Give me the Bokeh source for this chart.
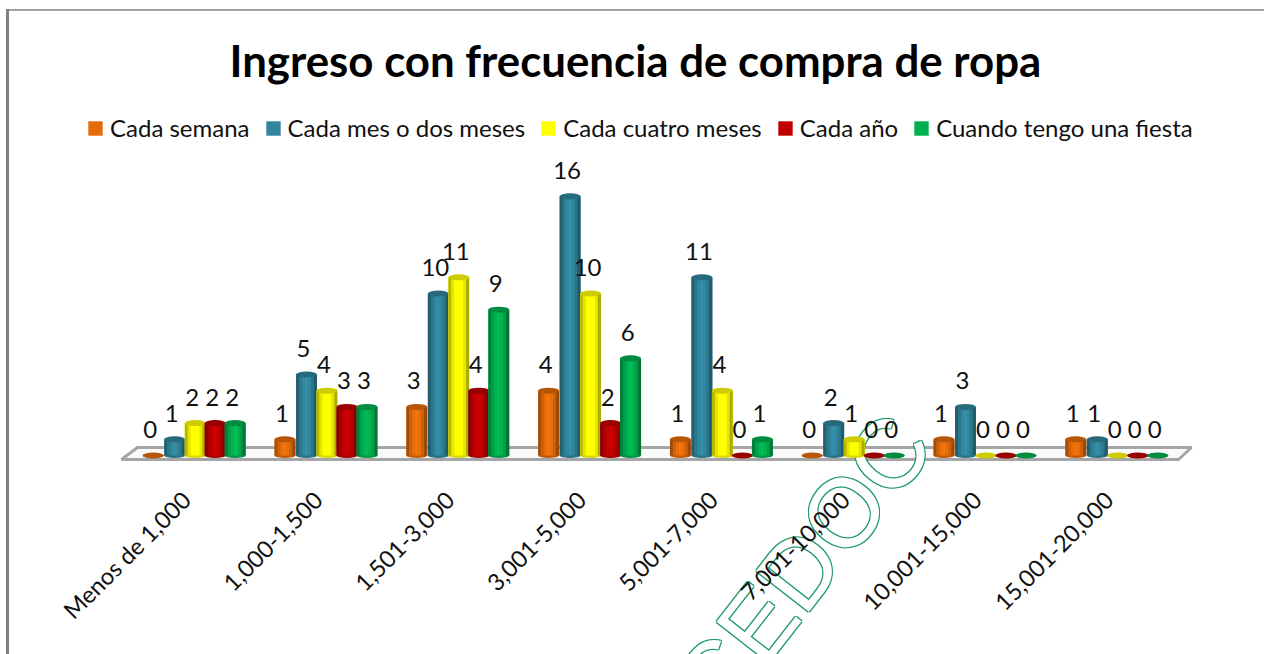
from bokeh.plotting import figure
from bokeh.embed import file_html
from bokeh.resources import INLINE
from bokeh.models import Legend, LegendItem, PolyAnnotation, Label, Range1d, FactorRange, ColumnDataSource
from bokeh.transform import dodge
from bokeh.core.properties import value
import math

categories = ["Menos de 1,000", "1,000-1,500", "1,501-3,000", "3,001-5,000",
              "5,001-7,000", "7,001-10,000", "10,001-15,000", "15,001-20,000"]
cada_semana = [0, 1, 3, 4, 1, 0, 1, 1]
cada_mes = [1, 5, 10, 16, 11, 2, 3, 1]
cada_cuatro = [2, 4, 11, 10, 4, 1, 0, 0]
cada_anio = [2, 3, 4, 2, 0, 0, 0, 0]
cuando_fiesta = [2, 3, 9, 6, 1, 0, 0, 0]
series_names = ["Cada semana", "Cada mes o dos meses", "Cada cuatro meses", "Cada año", "Cuando tengo una fiesta"]
title_text = "Ingreso con frecuencia de compra de ropa"
watermark = "CEDOC"

series = [cada_semana, cada_mes, cada_cuatro, cada_anio, cuando_fiesta]
colors = [(228, 108, 10), (49, 133, 156), (255, 255, 0), (192, 0, 0), (0, 176, 80)]
LABEL_SHIFT = 9  # category labels sit this many px left of their bar groups
offsets_px = [o + LABEL_SHIFT for o in [-42, -20.5, 0, 20, 40]]

GROUP = 131.8
F_L, F_R, F_T, F_B = 41, 1253, 105, 654
PX_UNIT = 16.2
BASE = 455

def shade(c, f):
    return "#%02x%02x%02x" % tuple(max(0, min(255, int(v * f))) for v in c)

p = figure(width=1264, height=654, output_backend="svg", toolbar_location=None,
           x_range=FactorRange(factors=categories, range_padding=(F_R - F_L - 8 * GROUP) / 2 / GROUP,
                               range_padding_units="absolute", factor_padding=0, group_padding=0),
           y_range=Range1d((BASE - F_B) / PX_UNIT, (BASE - F_T) / PX_UNIT),
           frame_width=F_R - F_L, frame_height=F_B - F_T,
           min_border_left=F_L, min_border_right=1264 - F_R,
           min_border_top=F_T, min_border_bottom=0,
           background_fill_color=None, border_fill_color=None, outline_line_color=None,
           styles={"background": "linear-gradient(#808080,#808080) 6px 9px/3px 645px no-repeat,"
                                 "linear-gradient(#A0A0A0,#A0A0A0) 6px 9px/1258px 2px no-repeat,white"})
p.grid.visible = False
p.yaxis.visible = False

ax = p.xaxis[0]
ax.fixed_location = (BASE - 462) / PX_UNIT
ax.axis_line_color = None
ax.major_tick_line_color = None
ax.minor_tick_line_color = None
ax.major_label_orientation = math.pi / 4
ax.major_label_text_font = "Lato"
ax.major_label_text_font_size = "23.5px"
ax.major_label_text_color = "#111111"
ax.major_label_standoff = 27

# title
p.title.text = title_text
p.title.align = "left"
p.title.offset = 229 - F_L
p.title.text_font = "Lato"
p.title.text_font_style = "bold"
p.title.text_font_size = "43.8px"
p.title.text_color = "black"
p.title.standoff = 40

def poly(xs, ys, **kw):
    p.add_layout(PolyAnnotation(xs=xs, ys=ys, xs_units="canvas", ys_units="canvas", **kw))

# floor
poly([121, 137, 1191, 1178], [459, 447, 447, 459], fill_color="#FAFAFA", fill_alpha=1,
     line_color="#A6A6A6", line_alpha=1, line_width=3, level="underlay")

# watermark: real text, outlined by offset copies
wm = dict(x=802, y=565, x_units="canvas", y_units="canvas", text=watermark, angle=52, angle_units="deg",
          text_font="Liberation Sans", text_font_size="97px", text_align="center", text_baseline="middle",
          level="underlay")
for dx, dy in [(-1, -1), (1, -1), (-1, 1), (1, 1)]:
    p.add_layout(Label(x_offset=dx, y_offset=dy, text_color="#1F9A6A", **wm))
p.add_layout(Label(text_color="white", **wm))

# cylinders
strips = [(-0.42, 0.72), (-0.28, 0.9), (-0.14, 1.02), (0.0, 1.08), (0.14, 1.02), (0.28, 0.9), (0.42, 0.68)]
W = 21
legend_items = []
for vals, name, col, off in zip(series, series_names, colors, offsets_px):
    src = ColumnDataSource(dict(cat=categories, val=vals, lab=[str(v) for v in vals], zero=[0] * len(vals)))
    px = off / GROUP
    main = p.vbar(x=dodge("cat", px, range=p.x_range), top="val", bottom=0, width=W / GROUP,
                  source=src, fill_color=shade(col, 1), line_color=None)
    p.ellipse(x=dodge("cat", px, range=p.x_range), y="zero", width=W, height=5, width_units="screen", height_units="screen",
              source=src, fill_color=shade(col, 0.85), line_color=None)
    for so, f in strips:
        p.vbar(x=dodge("cat", px + so * W / GROUP, range=p.x_range), top="val", bottom=0, width=(W * 0.15) / GROUP,
               source=src, fill_color=shade(col, f), line_color=None)
    p.ellipse(x=dodge("cat", px, range=p.x_range), y="val", width=W, height=6, width_units="screen", height_units="screen",
              source=src, fill_color=shade(col, 0.8), line_color=None)
    p.text(x=dodge("cat", px, range=p.x_range), y="val", text="lab", source=src, x_offset=-3, y_offset=-26,
           text_font=value("Lato"), text_font_size="24px", text_color="#111111",
           text_align="center", text_baseline="middle")
    legend_items.append(LegendItem(label=name, renderers=[main]))

leg = Legend(items=legend_items, orientation="horizontal", location=(86 - F_L, F_B - 142),
             background_fill_alpha=0, border_line_color=None, padding=0, margin=0,
             glyph_width=18, glyph_height=18, label_standoff=6, spacing=14,
             label_text_font="Lato", label_text_font_size="24px", label_text_color="#111111")
p.add_layout(leg)

open("out.html", "w").write(file_html(p, INLINE))
